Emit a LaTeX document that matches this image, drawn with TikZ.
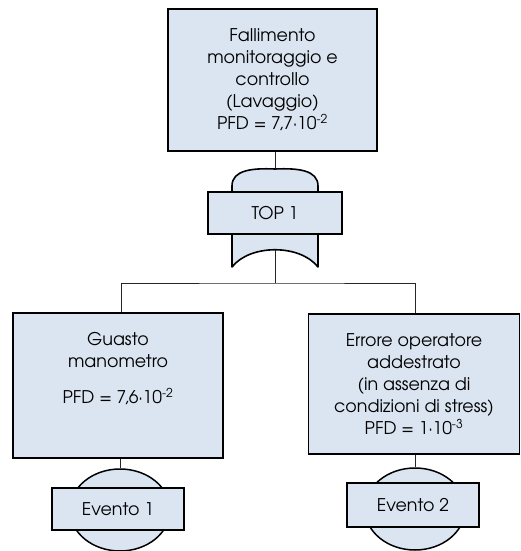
\documentclass[tikz,border=0pt]{standalone}
\usepackage{fontspec}
\setmainfont{texgyreadventor-regular.otf}
\usetikzlibrary{shapes.geometric}
\definecolor{boxfill}{RGB}{219,229,241}
\tikzset{
  box/.style={draw=black, fill=boxfill, line width=1.8pt, rectangle, inner sep=2pt, align=center, font=\fontsize{17.5}{22}\selectfont},
  lbl/.style={align=center, inner sep=0pt, font=\fontsize{17.5}{22}\selectfont},
  evshape/.style={draw=black, fill=boxfill, line width=1.5pt, ellipse, inner sep=0pt},
  conn/.style={draw=black!85, line width=0.9pt},
  gateline/.style={draw=black, fill=boxfill, line width=1.6pt, line join=round}
}
\begin{document}
\begin{tikzpicture}[x=1pt,y=-1pt]
\useasboundingbox (0,0) rectangle (520,551);
% top event
\node[box, minimum width=209pt, minimum height=142pt] (top) at (272.5,80)
  {Fallimento\\monitoraggio e\\controllo\\(Lavaggio)\\PFD = 7,7·10\textsuperscript{-2}};
% OR gate
\coordinate (gtop) at (275,169);
\coordinate (gbot) at (275,250);
\path[gateline] (232,267) -- (232,186) .. controls (232,170) and (252,168) .. (gtop)
  .. controls (298,168) and (318,170) .. (318,186) -- (318,267)
  .. controls (300,244) and (250,244) .. (232,267) -- cycle;
\node[box, minimum width=134pt, minimum height=42pt] (top1) at (275,213) {TOP 1};
\draw[conn] (top.south -| gtop) -- (gtop);
% children
\node[box, minimum width=210pt, minimum height=145pt] (b1) at (118,385.5) {};
\node[lbl, anchor=north] (b1t) at (118,332) {Guasto\\manometro\\[14pt]PFD = 7,6·10\textsuperscript{-2}};
\node[box, minimum width=211pt, minimum height=140pt] (b2) at (414,384)
  {Errore operatore\\addestrato\\(in assenza di\\condizioni di stress)\\PFD = 1·10\textsuperscript{-3}};
\coordinate (j) at (275,283);
\draw[conn] (gbot) -- (j);
\draw[conn] ([xshift=3pt]b1.north) |- (j) -| ([xshift=1pt]b2.north);
% basic events
\node[evshape, minimum width=100pt, minimum height=82pt] (e1c) at (120,510) {};
\node[box, minimum width=132pt, minimum height=42pt] (e1) at (118,509) {Evento 1};
\draw[conn] (e1c.north |- b1.south) -- (e1c.north);
\node[evshape, minimum width=100pt, minimum height=82pt] (e2c) at (415,509) {};
\node[box, minimum width=132pt, minimum height=44pt] (e2) at (413,505) {Evento 2};
\draw[conn] (e2c.north |- b2.south) -- (e2c.north);
\end{tikzpicture}
\end{document}
